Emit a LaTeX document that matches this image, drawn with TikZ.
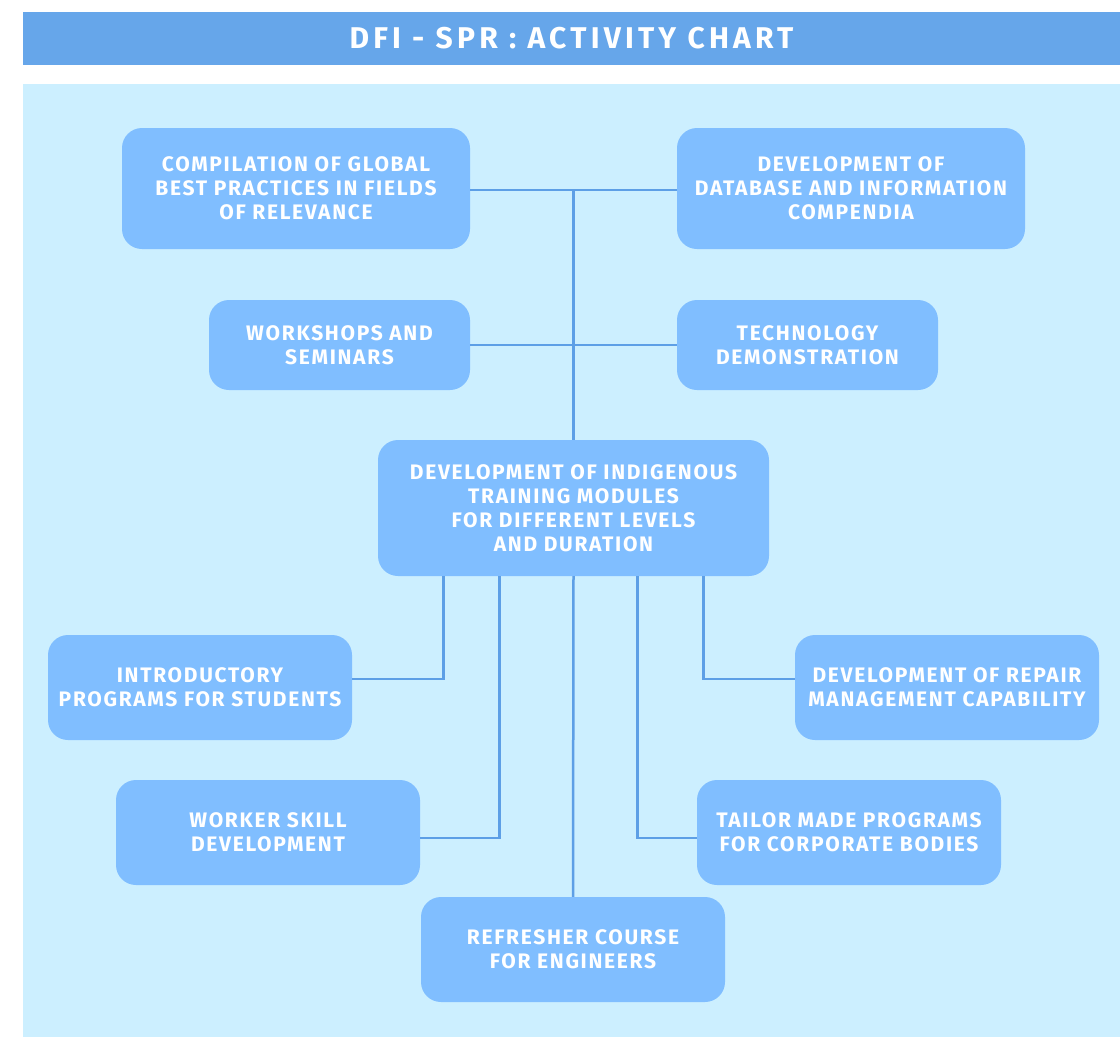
\documentclass[tikz,border=0pt]{standalone}
\usepackage{fontspec}
\setmainfont{Fira Sans}
\newfontfamily\chartfont[LetterSpace=8]{Fira Sans}
\newfontfamily\titlefont[LetterSpace=14]{Fira Sans}
\usepackage{tikz}
\usetikzlibrary{positioning}
\definecolor{barblue}{HTML}{66A6EA}
\definecolor{panelblue}{HTML}{CCEFFF}
\definecolor{boxblue}{HTML}{80BEFF}
\definecolor{lineblue}{HTML}{5D9FE6}
\tikzstyle{box} = [fill=boxblue,rectangle,rounded corners=20pt,align=center,
    text=white,font=\chartfont\bfseries\fontsize{21}{24}\selectfont,inner sep=0pt]
\tikzstyle{link} = [lineblue,line width=2.5pt]

\begin{document}
\begin{tikzpicture}[x=1pt,y=-1pt]
                        \useasboundingbox (0,0) rectangle (1120,1037);
                        \fill[panelblue] (23,84) rectangle (1120,1037);
                        \node[fill=barblue,rectangle,minimum width=1097pt,minimum height=53pt,
                            inner sep=0pt,text=white,font=\titlefont\bfseries\fontsize{30}{32}\selectfont]
                            (title) at (571.5,38.5) {DFI - SPR : ACTIVITY CHART};
                        % upper row
                        \node[box,minimum width=348pt,minimum height=121pt]
                            (comp) at (296,188.5) {COMPILATION OF GLOBAL\\BEST PRACTICES IN FIELDS\\OF RELEVANCE};
                        \node[box,minimum width=348pt,minimum height=121pt]
                            (data) at (851,188.5) {DEVELOPMENT OF\\DATABASE AND INFORMATION\\COMPENDIA};
                        \node[box,minimum width=261pt,minimum height=90pt]
                            (work) at (339.5,345) {WORKSHOPS AND\\SEMINARS};
                        \node[box,minimum width=261pt,minimum height=90pt]
                            (tech) at (807.5,345) {TECHNOLOGY\\DEMONSTRATION};
                        \node[box,minimum width=391pt,minimum height=136pt]
                            (modules) at (573.5,508) {DEVELOPMENT OF INDIGENOUS\\TRAINING MODULES\\FOR DIFFERENT LEVELS\\AND DURATION};
                        % lower row
                        \node[box,minimum width=304pt,minimum height=105pt]
                            (intro) at (200,687.5) {INTRODUCTORY\\PROGRAMS FOR STUDENTS};
                        \node[box,minimum width=304pt,minimum height=105pt]
                            (repair) at (947,687.5) {DEVELOPMENT OF REPAIR\\MANAGEMENT CAPABILITY};
                        \node[box,minimum width=304pt,minimum height=105pt]
                            (worker) at (268,832.5) {WORKER SKILL\\DEVELOPMENT};
                        \node[box,minimum width=304pt,minimum height=105pt]
                            (tailor) at (849,832.5) {TAILOR MADE PROGRAMS\\FOR CORPORATE BODIES};
                        \node[box,minimum width=304pt,minimum height=105pt]
                            (refresh) at (573,949.5) {REFRESHER COURSE\\FOR ENGINEERS};
                        % connectors
                        \draw[link] ([yshift=-1.5pt]comp.east) -- ([yshift=-1.5pt]data.west);
                        \draw[link] (work.east) -- (tech.west);
                        \draw[link] (modules.north) -- ([yshift=-1.5pt]modules.north |- comp.east);
                        \draw[link] ([xshift=-130pt]modules.south) |- ([yshift=8.5pt]intro.east);
                        \draw[link] ([xshift=-74pt]modules.south) |- ([yshift=-5.5pt]worker.east);
                        \draw[link] (modules.south) -- (refresh.north);
                        \draw[link] ([xshift=64pt]modules.south) |- ([yshift=-5.5pt]tailor.west);
                        \draw[link] ([xshift=130pt]modules.south) |- ([yshift=8.5pt]repair.west);
                    \end{tikzpicture}
\end{document}
